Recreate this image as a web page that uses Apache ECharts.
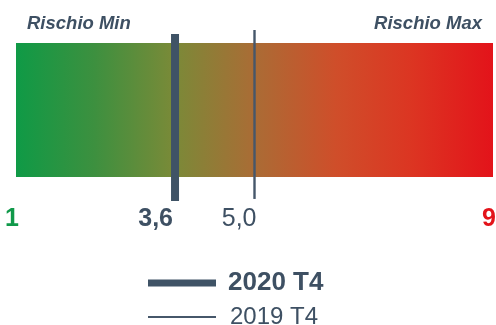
<!DOCTYPE html>
<html>
<head>
<meta charset="utf-8">
<script src="https://cdn.jsdelivr.net/npm/echarts@6/dist/echarts.min.js"></script>
<style>
  html, body { margin: 0; padding: 0; background: #ffffff; }
  #chart { width: 496px; height: 325px; }
</style>
</head>
<body>
<div id="chart"></div>
<script>
// Risk scale and the two quarterly readings
const scaleEnds = [1, 9];
const scaleLabels = ['1', '9'];
const periods = ['2020 T4', '2019 T4'];
const riskValues = [3.6, 5.0];
const riskLabels = ['3,6', '5,0'];
const edgeTitles = ['Rischio Min', 'Rischio Max'];

const FONT = '"Liberation Sans", Arial, sans-serif';
const INK = '#3e5063';

const chart = echarts.init(document.getElementById('chart'), null, { renderer: 'canvas' });

// y domain 0..100 spans the marker height; the gradient band sits inside it
const BAND_LOW = 14, BAND_HIGH = 92.4;

function bandItem(params, api) {
  const p0 = api.coord([scaleEnds[0], BAND_HIGH]);
  const p1 = api.coord([scaleEnds[1], BAND_LOW]);
  return {
    type: 'rect',
    shape: { x: p0[0], y: p0[1], width: p1[0] - p0[0], height: p1[1] - p0[1] },
    style: {
      fill: new echarts.graphic.LinearGradient(0, 0, 1, 0, [
        { offset: 0, color: '#0f9a46' },
        { offset: 0.165, color: '#3d903f' },
        { offset: 0.33, color: '#7a8a38' },
        { offset: 0.5, color: '#aa6c35' },
        { offset: 0.67, color: '#cf4e2a' },
        { offset: 0.83, color: '#dc3522' },
        { offset: 1, color: '#e3131a' }
      ])
    },
    silent: true
  };
}

function endLabelItem(params, api) {
  const v = api.value(0);
  const p = api.coord([v, 0]);
  return {
    type: 'text',
    x: p[0] + 3,
    y: 219,
    style: {
      text: scaleLabels[params.dataIndex],
      fill: params.dataIndex === 0 ? '#10994a' : '#e3131a',
      font: 'bold 25px ' + FONT,
      align: 'right',
      verticalAlign: 'middle'
    }
  };
}

function markerItem(width, top, bottom, bold, offset) {
  return function (params, api) {
    const v = api.value(0);
    const a = api.coord([v, top]);
    const b = api.coord([v, bottom]);
    const x0 = a[0] + offset;
    return {
      type: 'group',
      children: [
        {
          type: 'rect',
          shape: { x: x0, y: a[1], width: width, height: b[1] - a[1] },
          style: { fill: api.visual('color') }
        },
        {
          type: 'text',
          x: a[0] + 2,
          y: 219,
          style: {
            text: riskLabels[riskValues.indexOf(v)],
            fill: INK,
            font: (bold ? 'bold ' : '') + '25px ' + FONT,
            align: 'right',
            verticalAlign: 'middle'
          }
        }
      ]
    };
  };
}

const option = {
  animation: false,
  grid: { left: 16, right: 3, top: 30, height: 171, containLabel: false },
  xAxis: { type: 'value', min: scaleEnds[0], max: scaleEnds[1], show: false },
  yAxis: { type: 'value', min: 0, max: 100, show: false },
  legend: [
    {
      data: [periods[0]],
      left: 148, top: 270,
      padding: 0,
      icon: 'rect',
      itemWidth: 68, itemHeight: 7,
      selectedMode: false,
      textStyle: { color: INK, fontSize: 26, fontWeight: 'bold', fontFamily: FONT, padding: [0, 0, 0, 7] }
    },
    {
      data: [periods[1]],
      left: 148, top: 305,
      padding: 0,
      icon: 'rect',
      itemWidth: 68, itemHeight: 2,
      selectedMode: false,
      textStyle: { color: INK, fontSize: 24, fontWeight: 'normal', fontFamily: FONT, padding: [0, 0, 0, 9] }
    }
  ],
  graphic: [
    {
      type: 'text', left: 27, top: 14,
      style: { text: edgeTitles[0], fill: INK, font: 'italic bold 18.5px ' + FONT }
    },
    {
      type: 'text', right: 14, top: 14,
      style: { text: edgeTitles[1], fill: INK, font: 'italic bold 18.5px ' + FONT }
    }
  ],
  series: [
    {
      type: 'custom', name: 'band', silent: true, z: 1,
      data: [[scaleEnds[0]]],
      renderItem: bandItem
    },
    {
      type: 'custom', name: 'ends', silent: true, z: 2,
      data: scaleEnds.map(v => [v]),
      renderItem: endLabelItem
    },
    {
      type: 'custom', name: periods[1], z: 3,
      itemStyle: { color: '#46576a' },
      data: [[riskValues[1]]],
      renderItem: markerItem(2.4, 100, 1.2, false, -1.2)
    },
    {
      type: 'custom', name: periods[0], z: 4,
      itemStyle: { color: '#3f5366' },
      data: [[riskValues[0]]],
      renderItem: markerItem(8, 97.7, 0, true, 0)
    }
  ]
};

chart.setOption(option);
</script>
</body>
</html>
